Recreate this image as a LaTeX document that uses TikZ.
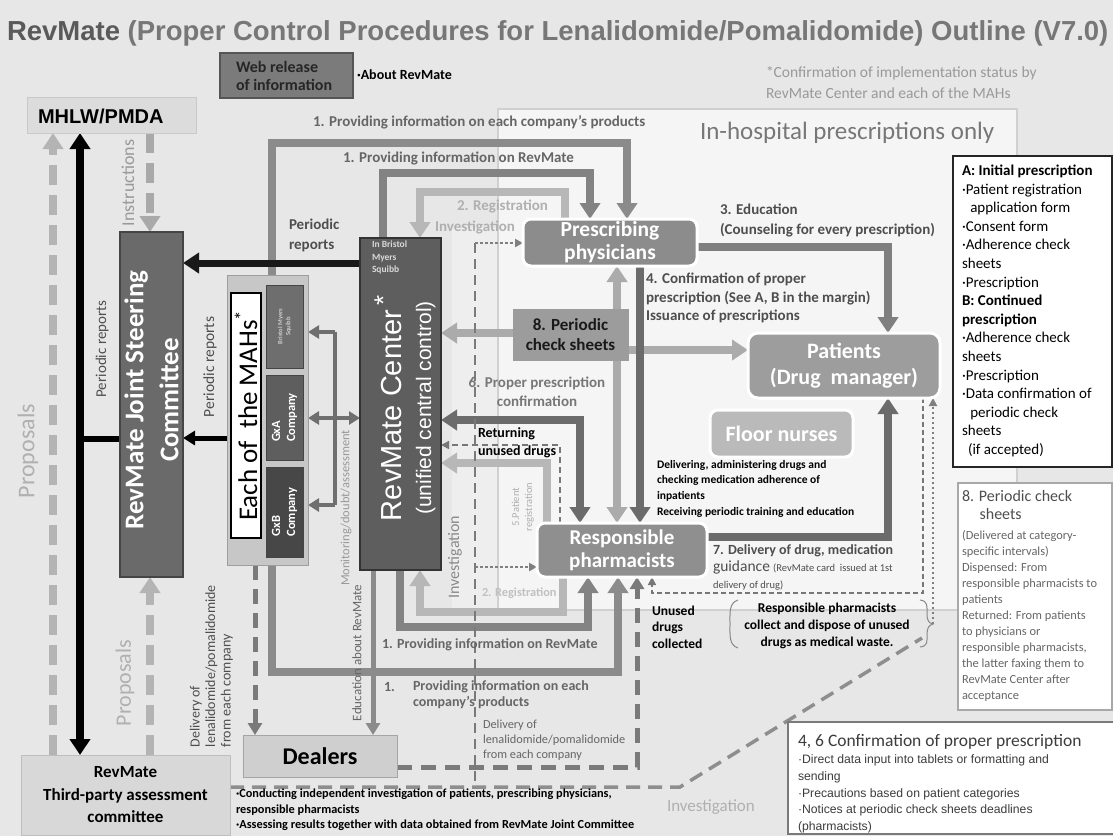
\documentclass[tikz,border=0pt]{standalone}
\usepackage{fontspec}
\usepackage{graphicx}
\setmainfont{Carlito}
\newfontfamily\arialf{Liberation Sans}
\usetikzlibrary{arrows.meta}
\newcommand{\fz}[2]{\fontsize{#1}{#2}\selectfont}
\pgfdeclarelayer{back}
\pgfdeclarelayer{lines}
\pgfsetlayers{back,lines,main}
\definecolor{bg}{HTML}{E7E7E7}
\definecolor{hosp}{HTML}{F5F5F5}
\definecolor{hospline}{HTML}{D0D0D0}
\definecolor{band}{HTML}{EEEEEE}
\definecolor{webc}{HTML}{7B7B7B}
\definecolor{webd}{HTML}{555555}
\definecolor{mhlwc}{HTML}{DCDCDC}
\definecolor{mhlwd}{HTML}{C9C9C9}
\definecolor{jscc}{HTML}{6A6A6A}
\definecolor{jscd}{HTML}{454545}
\definecolor{mahsc}{HTML}{C7C7C7}
\definecolor{mahsd}{HTML}{9E9E9E}
\definecolor{bmsc}{HTML}{6E6E6E}
\definecolor{gxac}{HTML}{5E5E5E}
\definecolor{gxbc}{HTML}{474747}
\definecolor{rcc}{HTML}{5E5E5E}
\definecolor{rcd}{HTML}{333333}
\definecolor{prescc}{HTML}{8C8C8C}
\definecolor{ps8c}{HTML}{9C9C9C}
\definecolor{patc}{HTML}{9D9D9D}
\definecolor{floorc}{HTML}{BABABA}
\definecolor{pharmc}{HTML}{8F8F8F}
\definecolor{dealc}{HTML}{CFCFCF}
\definecolor{deald}{HTML}{A5A5A5}
\definecolor{thirdc}{HTML}{D8D8D8}
\definecolor{thirdd}{HTML}{BEBEBE}
\definecolor{box8d}{HTML}{A8A8A8}
\definecolor{box46d}{HTML}{7A7A7A}
\definecolor{framec}{HTML}{8B8B8B}
\definecolor{framecb}{HTML}{838383}
\definecolor{lightc}{HTML}{B7B7B7}
\definecolor{lightcb}{HTML}{ABABAB}
\definecolor{darkc}{HTML}{6B6B6B}
\definecolor{educ}{HTML}{7F7F7F}
\definecolor{dashc}{HTML}{777777}
\definecolor{dotc}{HTML}{7F7F7F}
\definecolor{invc}{HTML}{7A7A7A}
\definecolor{invcb}{HTML}{8E8E8E}
\definecolor{delc}{HTML}{7A7A7A}
\definecolor{monc}{HTML}{6F6F6F}
\definecolor{propc}{HTML}{B4B4B4}
\definecolor{instrc}{HTML}{A9A9A9}
\definecolor{brc}{HTML}{888888}
\definecolor{titc}{HTML}{5A5A5A}
\definecolor{titd}{HTML}{777777}
\definecolor{ta}{HTML}{4E4E4E}
\definecolor{tb}{HTML}{666666}
\definecolor{tc}{HTML}{999999}
\definecolor{td}{HTML}{B0B0B0}
\definecolor{te}{HTML}{888888}
\definecolor{tf}{HTML}{777777}
\definecolor{tg}{HTML}{C0C0C0}
\definecolor{th}{HTML}{3C3C3C}
\begin{document}
\begin{tikzpicture}[x=1pt,y=-1pt,
  box/.style={draw, inner sep=0pt, outer sep=0pt},
  rbox/.style={draw=white, line width=3pt, rounded corners=8pt, inner sep=0pt, outer sep=0pt},
  txt/.style={inner sep=0pt, outer sep=0pt},
  fat/.style={line width=8pt},
  ah/.style={-{Triangle[width=20pt,length=16pt]}},
  ahb/.style={{Triangle[width=20pt,length=16pt]}-{Triangle[width=20pt,length=16pt]}},
  ahm/.style={-{Triangle[width=14pt,length=12pt]}},
  ahmb/.style={{Triangle[width=13pt,length=11pt]}-{Triangle[width=13pt,length=11pt]}},
  ahms/.style={-{Triangle[width=13pt,length=11pt]}},
  ahs/.style={-{Triangle[width=8pt,length=8pt]}},
  bigdash/.style={dash pattern=on 20pt off 10pt},
  middash/.style={dash pattern=on 15pt off 9pt},
  dots/.style={dash pattern=on 2.5pt off 2.5pt},
]
\useasboundingbox (0,0) rectangle (1113,836);
\begin{pgfonlayer}{back}
\fill[bg] (0,0) rectangle (1113,836);
\fill[band] (452,228) rectangle (498,609);
\filldraw[fill=hosp, draw=hospline, line width=1.2pt] (498,109) rectangle (1017,610);
\end{pgfonlayer}

% ---------- title ----------
\node[txt, anchor=base west] (title) at (7,40) {\resizebox{1101pt}{!}{\arialf\bfseries\textcolor{titc}{RevMate} \textcolor{titd}{(Proper Control Procedures for Lenalidomide/Pomalidomide) Outline (V7.0)}}};

% ---------- boxes ----------
\node[box, fill=webc, draw=webd, line width=2pt, minimum width=133pt, minimum height=45pt] (web) at (286.5,75.5) {};
\node[box, fill=mhlwc, draw=mhlwd, line width=1pt, minimum width=169pt, minimum height=36pt] (mhlw) at (111.5,115) {};
\node[box, fill=jscc, draw=jscd, line width=2pt, minimum width=63pt, minimum height=345pt] (jsc) at (151.5,404.5) {};
\node[box, fill=mahsc, draw=mahsd, line width=1pt, minimum width=81pt, minimum height=290pt] (mahs) at (267.5,420) {};
\node[box, fill=white, draw=black, line width=1.5pt, minimum width=30pt, minimum height=245pt] (each) at (246,415.5) {};
\node[box, fill=bmsc, draw=jscd, line width=1pt, minimum width=37pt, minimum height=83pt] (bms) at (284.5,326.5) {};
\node[box, fill=gxac, draw=jscd, line width=1pt, minimum width=37pt, minimum height=85pt] (gxa) at (284.5,417.5) {};
\node[box, fill=gxbc, draw=jscd, line width=1pt, minimum width=37pt, minimum height=90pt] (gxb) at (284.5,512) {};
\node[box, fill=rcc, draw=rcd, line width=2pt, minimum width=81pt, minimum height=332pt] (rc) at (400.5,404) {};
\node[rbox, fill=prescc, minimum width=174pt, minimum height=47pt] (presc) at (610,242.5) {};
\node[box, fill=ps8c, draw=ps8c, minimum width=115pt, minimum height=51pt] (ps8) at (570.5,334.5) {};
\node[rbox, fill=patc, rounded corners=10pt, minimum width=192pt, minimum height=65pt] (pat) at (844,365.5) {};
\node[rbox, fill=floorc, minimum width=143pt, minimum height=47pt] (floor) at (781.5,433.5) {};
\node[rbox, fill=pharmc, minimum width=170pt, minimum height=54pt] (pharm) at (622,550) {};
\node[box, fill=dealc, draw=deald, line width=1pt, minimum width=154pt, minimum height=42pt] (dealers) at (320,756) {};
\node[box, fill=thirdc, draw=thirdd, line width=1pt, minimum width=209pt, minimum height=80pt] (third) at (125.5,795) {};
\node[box, fill=white, draw=black!85, line width=2pt, minimum width=159pt, minimum height=311pt] (abbox) at (1032.5,311.5) {};
\node[box, fill=white, draw=box8d, line width=2pt, minimum width=154pt, minimum height=227pt] (box8) at (1035,596.5) {};
\node[box, fill=white, draw=box46d, line width=2.5pt, minimum width=327pt, minimum height=112pt] (box46) at (951.5,778) {};

% ---------- connectors ----------
\begin{pgfonlayer}{lines}
% left column
\draw[fat, propc, bigdash, ah] (53,0 |- third.north) -- (53,0 |- mhlw.south);
\draw[fat, black, ahb] (80,0 |- mhlw.south) -- (80,0 |- third.north);
\draw[line width=6pt, black] (80,439) -- (jsc.west |- 0,439);
\draw[fat, instrc, bigdash, ah] (150,0 |- mhlw.south) -- (150,0 |- jsc.north);
\draw[fat, propc, bigdash, ah] (150,0 |- third.north) -- (150,0 |- jsc.south);
% frames
\draw[fat, framec, ah] (272,0 |- mahs.north) -- (272,143) -| (627,0 |- presc.north);
\draw[fat, framec, ah] (272,0 |- mahs.south) -- (272,672) -| (618,0 |- pharm.south);
\draw[fat, framecb, ah] (383,0 |- rc.north) -- (383,173) -| (590,0 |- presc.north);
\draw[fat, framecb, ah] (400,0 |- rc.south) -- (400,627) -| (588,0 |- pharm.south);
% periodic reports
\draw[line width=5pt, black, ahm] (mahs.west |- 0,438) -- (jsc.east |- 0,438);
\draw[line width=7pt, black!90, ah] (rc.west |- 0,263) -- (jsc.east |- 0,263);
% registration (light)
\draw[fat, lightc, ah] (565,0 |- presc.north) -- (565,192) -| (420,0 |- rc.north);
\draw[fat, lightc, ah] (563,0 |- pharm.south) -- (563,612) -| (420,0 |- rc.south);
\draw[fat, lightc, ah] (547,0 |- pharm.north) -- (547,463) -- (rc.east |- 0,463);
% periodic check sheets
\draw[fat, lightcb, ahb] (617,0 |- presc.south) -- (617,0 |- pharm.north);
\draw[fat, lightcb, ah] (ps8.west |- 0,333) -- (rc.east |- 0,333);
\draw[fat, lightcb, ah] (ps8.east |- 0,350) -- (pat.west |- 0,350);
% 4 and 6
\draw[fat, darkc, ah] (640,0 |- presc.south) -- (640,0 |- pharm.north);
\draw[fat, darkc, ahb] (rc.east |- 0,420) -- (580,420) -- (580,0 |- pharm.north);
\draw[line width=1.5pt, dashc, dash pattern=on 6pt off 4pt, ahs] (560,0 |- pharm.north) -- (560,445) -- (rc.east |- 0,445);
% education, delivery
\draw[fat, educ, ah] (presc.east |- 0,247) -- (888,247) -- (888,0 |- pat.north);
\draw[fat, darkc, ah] (pharm.east |- 0,537) -- (888,537) -- (888,0 |- pat.south);
\draw[line width=1.5pt, dashc, dash pattern=on 5pt off 3pt, ahs] (923,0 |- pat.south) -- (923,593) -- (652,593) -- (652,0 |- pharm.south);
\coordinate (brace) at (933,624);
\draw[line width=2pt, dotc, dots, ahs] (brace) -- (933,0 |- pat.south);
% investigation
\coordinate (invtop) at (475,243);
\coordinate (invmid) at (475,567);
\coordinate (invbot) at (475,787);
\coordinate (invend) at (922,638);
\draw[line width=2pt, invc, dash pattern=on 10pt off 6pt] (invtop) -- (invbot);
\draw[line width=2pt, dotc, dots, ahs] (invtop) -- (presc.west |- invtop);
\draw[line width=2pt, dotc, dots, ahs] (invmid) -- (pharm.west |- invmid);
\draw[line width=3.5pt, invcb, dash pattern=on 14pt off 8pt] (third.east |- 0,787) -- (680,787) -- (invend);
% dealers
\draw[line width=5pt, delc, middash, ahm] (dealers.east |- 0,767) -- (637,767) -- (637,0 |- pharm.south);
\draw[line width=5pt, delc, middash, ahm] (255,0 |- mahs.south) -- (255,0 |- dealers.north);
\draw[line width=5pt, framec, ahm] (373,0 |- rc.south) -- (373,0 |- dealers.north);
% monitoring
\draw[line width=4pt, monc] (335,332) -- (335,505);
\draw[line width=4pt, monc, ahms] (335,332) -- (mahs.east |- 0,332);
\draw[line width=4pt, monc, ahmb] (mahs.east |- 0,418) -- (rc.west |- 0,418);
\draw[line width=4pt, monc, ahms] (335,505) -- (mahs.east |- 0,505);
\end{pgfonlayer}

% brackets
\draw[brc, line width=1pt] (738,600) .. controls (729,603) and (730,612) .. (730,624) .. controls (730,636) and (729,645) .. (738,648);
\draw[brc, line width=1pt] (920,600) .. controls (928,601) and (927,606) .. (927,614) .. controls (927,621) and (929,623) .. (933,624) .. controls (929,625) and (927,628) .. (927,634) .. controls (927,642) and (928,646) .. (920,647);

% ---------- texts ----------
\node[txt, anchor=west, align=left, font=\fz{16}{18}\bfseries, text=black!85] (webt) at (236,76) {Web release\\of information};
\node[txt, anchor=west, font=\fz{14}{16}\bfseries] (about) at (357,75) {·About RevMate};
\node[txt, anchor=west, font=\arialf\fz{20}{22}\bfseries] (mhlwt) at (38,116) {MHLW/PMDA};
\node[txt, anchor=west, align=left, font=\fz{15.5}{21}, text=tc] (conf) at (766,83) {*Confirmation of implementation status by\\RevMate Center and each of the MAHs};
\node[txt, anchor=west, font=\fz{25}{28}, text=tf] (hospt) at (700,133) {In-hospital prescriptions only};
\node[txt, anchor=west, font=\fz{15}{18}\bfseries, text=tb] (l1a) at (313,122) {1. Providing information on each company's products};
\node[txt, anchor=west, font=\fz{15}{18}\bfseries, text=tb] (l1b) at (343,158) {1. Providing information on RevMate};
\node[txt, anchor=west, font=\fz{15}{18}\bfseries, text=td] (l2) at (457,206) {2. Registration};
\node[txt, anchor=west, font=\fz{15}{18}\bfseries, text=td] (linv) at (435,227) {Investigation};
\node[txt, anchor=west, align=left, font=\fz{15}{20}\bfseries, text=ta] (lper) at (289,235) {Periodic\\reports};
\node[txt, rotate=90, font=\fz{18}{20}, text=tc] (linstr) at (128,183) {Instructions};
\node[txt, anchor=north west, align=left, font=\fz{9.5}{12.5}\bfseries, text=white!85!black] (bristol) at (372,241) {In Bristol\\Myers\\Squibb};

\node[txt, rotate=90, font=\fz{27}{35}\bfseries, text=white, align=center] (jsct) at (151.5,400) {RevMate Joint Steering\\Committee};
\node[txt, rotate=90, text=white, align=center, font=\arialf\fz{21}{30}] (rct) at (405,408) {{\fz{29}{30}RevMate Center\,\raisebox{0.3em}{\fz{26}{26}*}}\\(unified central control)};
\node[txt, rotate=90, font=\fz{27}{30}] (eacht) at (each.center) {Each of\ \ the MAHs\textsuperscript{*}};
\node[txt, rotate=90, align=center, font=\fz{6.5}{8}\bfseries, text=white!80!black] (bmst) at (bms.center) {Bristol Myers\\Squibb};
\node[txt, rotate=90, align=left, font=\fz{12.5}{15}\bfseries, text=white] (gxat) at (gxa.center) {GxA\\Company};
\node[txt, rotate=90, align=left, font=\fz{12.5}{15}\bfseries, text=white] (gxbt) at (gxb.center) {GxB\\Company};

\node[txt, rotate=90, font=\fz{15}{17}, text=ta] (lpr1) at (102,349) {Periodic reports};
\node[txt, rotate=90, font=\fz{15.5}{17}, text=ta] (lpr2) at (210,367) {Periodic reports};
\node[txt, rotate=90, font=\fz{24}{26}, text=td] (lprop1) at (28,451) {Proposals};
\node[txt, rotate=90, font=\fz{22}{24}, text=td] (lprop2) at (125,683) {Proposals};
\node[txt, rotate=90, font=\fz{12.5}{14}, text=tc] (lmon) at (346,508) {Monitoring/doubt/assessment};
\node[txt, rotate=90, font=\fz{13}{14}, text=tb] (ledu) at (357,653) {Education about RevMate};
\node[txt, rotate=90, anchor=north west, align=left, font=\fz{14}{15.5}, text=ta] (ldel1) at (190,747) {Delivery of\\lenalidomide/pomalidomide\\from each company};
\node[txt, rotate=90, font=\fz{16}{18}, text=te] (linv2) at (455,557) {Investigation};
\node[txt, rotate=90, align=center, font=\fz{10.5}{13}, text=td] (l5) at (523,507) {5.Patient\\registration};

\node[txt, align=center, font=\fz{15}{19}\bfseries, text=tf] (l6) at (537,392) {6. Proper prescription\\confirmation};
\node[txt, anchor=west, align=left, font=\fz{14}{18}\bfseries] (lret) at (478,443) {Returning\\unused drugs};
\node[txt, anchor=west, align=left, font=\fz{15}{20}\bfseries, text=ta] (l3) at (720,220) {3. Education\\(Counseling for every prescription)};
\node[txt, anchor=west, align=left, font=\fz{15}{18.5}\bfseries, text=ta] (l4) at (646,298) {4. Confirmation of proper\\prescription (See A, B in the margin)\\Issuance of prescriptions};

\node[txt, align=center, font=\fz{21.5}{23}\bfseries, text=white] (presct) at (presc.center) {Prescribing\\physicians};
\node[txt, align=center, font=\fz{17}{20}\bfseries, text=black!90] (ps8t) at (ps8.center) {8. Periodic\\check sheets};
\node[txt, align=center, font=\fz{22}{26}\bfseries, text=white] (patt) at (pat.center) {Patients\\(Drug\ \ manager)};
\node[txt, font=\fz{22}{24}\bfseries, text=white] (floort) at (floor.center) {Floor nurses};
\node[txt, align=center, font=\fz{21}{23}\bfseries, text=white] (pharmt) at (pharm.center) {Responsible\\pharmacists};
\node[txt, anchor=north west, align=left, font=\fz{11.5}{15.7}\bfseries] (lfloor) at (657,460) {Delivering, administering drugs and\\checking medication adherence of\\inpatients\\Receiving periodic training and education};
\node[txt, anchor=north west, align=left, font=\fz{14}{17}\bfseries, text=ta] (l7) at (713,545) {7. Delivery of drug, medication\\{\fz{15.5}{17}\mdseries guidance} {\fz{10.5}{17}\mdseries (RevMate card\ \ issued at 1st}\\{\fz{10.5}{17}\mdseries delivery of drug)}};
\node[txt, anchor=west, align=left, font=\fz{13.5}{16.5}\bfseries] (lunused) at (652,627) {Unused\\drugs\\collected};
\node[txt, align=center, font=\fz{13.5}{17}\bfseries] (lcollect) at (827,626) {Responsible pharmacists\\collect and dispose of unused\\drugs as medical waste.};

\node[txt, anchor=west, font=\fz{14}{16}\bfseries, text=tb] (l1c) at (382,645) {1. Providing information on RevMate};
\node[txt, anchor=west, font=\fz{14}{16}\bfseries, text=tb] (l1d) at (384,687) {1.};
\node[txt, anchor=west, align=left, font=\fz{14}{16}\bfseries, text=tb] (l1e) at (413,695) {Providing information on each\\company's products};
\node[txt, anchor=west, align=left, font=\fz{12.3}{15}, text=tb] (ldel2) at (483,740) {Delivery of\\lenalidomide/pomalidomide\\from each company};
\node[txt, anchor=west, font=\fz{12.3}{14}\bfseries, text=tg] (l2b) at (482,593) {2. Registration};
\node[txt, anchor=west, font=\fz{17}{19}, text=td] (linv3) at (667,807) {Investigation};
\node[txt, align=center, font=\fz{17}{22.5}\bfseries] (thirdt) at (third.center) {RevMate\\Third-party assessment\\committee};
\node[txt, font=\fz{24}{26}\bfseries] (dealt) at (dealers.center) {Dealers};
\node[txt, anchor=north west, align=left, font=\fz{12.3}{15.5}\bfseries] (lbul) at (236,789) {·Conducting independent investigation of patients, prescribing physicians,\\responsible pharmacists\\·Assessing results together with data obtained from RevMate Joint Committee};

\node[txt, anchor=west, align=left, font=\fz{15}{18.6}] (abt) at (962,311) {\textbf{A: Initial prescription}\\·Patient registration\\\hspace*{0.55em}application form\\·Consent form\\·Adherence check\\sheets\\·Prescription\\\textbf{B: Continued}\\\textbf{prescription}\\·Adherence check\\sheets\\·Prescription\\·Data confirmation of\\\hspace*{0.55em}periodic check\\sheets\\\hspace*{0.4em}(if accepted)};
\node[txt, anchor=north west, align=left, font=\fz{16}{18}, text=ta] (b8h) at (962,490) {8. Periodic check\\\hspace*{1.1em}sheets};
\node[txt, anchor=north west, align=left, font=\fz{12.4}{16}, text=tb] (b8b) at (962,530) {(Delivered at category-\\specific intervals)\\Dispensed: From\\responsible pharmacists to\\patients\\Returned: From patients\\to physicians or\\responsible pharmacists,\\the latter faxing them to\\RevMate Center after\\acceptance};
\node[txt, anchor=west, font=\fz{17.5}{20}, text=th] (b46h) at (798,742) {4, 6 Confirmation of proper prescription};
\node[txt, anchor=west, align=left, font=\arialf\fz{12.2}{16.75}, text=th] (b46b) at (798,794) {·Direct data input into tablets or formatting and\\sending\\·Precautions based on patient categories\\·Notices at periodic check sheets deadlines\\(pharmacists)};
\end{tikzpicture}
\end{document}
